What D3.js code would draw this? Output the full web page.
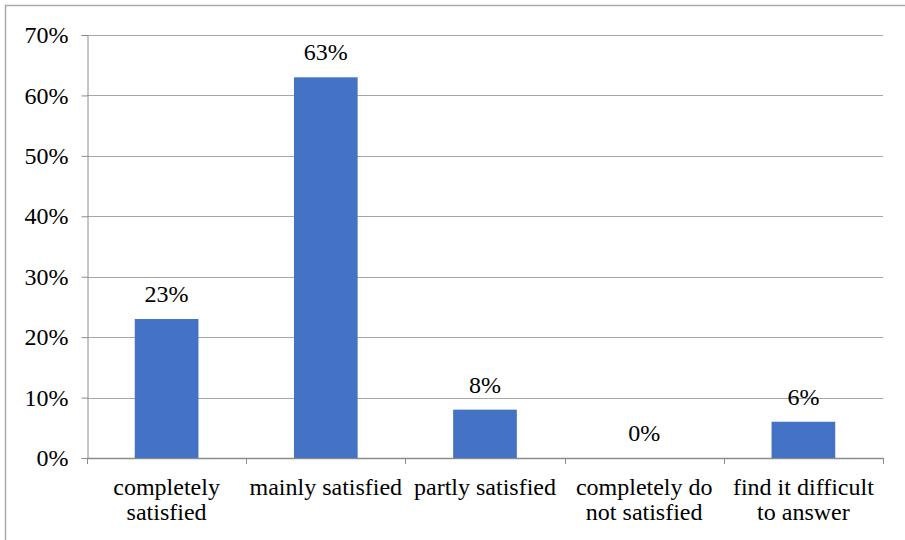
<!DOCTYPE html>
<html>
<head>
<meta charset="utf-8">
<script src="https://cdn.jsdelivr.net/npm/d3@7"></script>
</head>
<body style="margin:0">
<svg id="chart" width="905" height="540"></svg>
<script>
// Survey answers and their shares (%)
const categories = ["completely satisfied", "mainly satisfied", "partly satisfied", "completely do not satisfied", "find it difficult to answer"];
const categoryLines = [["completely", "satisfied"], ["mainly satisfied"], ["partly satisfied"], ["completely do", "not satisfied"], ["find it difficult", "to answer"]];
const values = [23, 63, 8, 0, 6];
const yTicks = [0, 10, 20, 30, 40, 50, 60, 70];

const svg = d3.select("#chart");
const W = 905, H = 540;
const plotLeft = 87, plotRight = 883, plotTop = 35, plotBottom = 458;
const fontSize = 24;
const serif = "Liberation Serif";

// outer frame
svg.append("rect")
  .attr("x", 5.5).attr("y", 5.5)
  .attr("width", W + 10).attr("height", H + 10)
  .attr("fill", "none").attr("stroke", "#aaaaaa").attr("stroke-width", 1.5);

const x = d3.scaleBand().domain(categories).range([plotLeft, plotRight]).paddingInner(0.6).paddingOuter(0.3);
const y = d3.scaleLinear().domain([0, 70]).range([plotBottom, plotTop]);

// horizontal gridlines
svg.append("g").selectAll("line").data(yTicks.filter(t => t > 0)).join("line")
  .attr("x1", plotLeft).attr("x2", plotRight)
  .attr("y1", d => Math.round(y(d)) + 0.5).attr("y2", d => Math.round(y(d)) + 0.5)
  .attr("stroke", "#a6a6a6").attr("stroke-width", 1);

// y axis
const yAxis = svg.append("g").attr("transform", `translate(${plotLeft + 0.5},0)`)
  .call(d3.axisLeft(y).tickValues(yTicks).tickFormat(d => d + "%").tickSize(6).tickPadding(13));
yAxis.attr("font-family", serif).attr("font-size", fontSize);
yAxis.select(".domain").attr("stroke", "#8c8c8c");
yAxis.selectAll(".tick line").attr("stroke", "#8c8c8c");
yAxis.selectAll(".tick text")
  .attr("font-size", fontSize)
  .style("font-family", serif)
  .attr("fill", "#000");

// x axis line with ticks at category boundaries
const bounds = d3.range(categories.length + 1).map(i => plotLeft + (plotRight - plotLeft) * i / categories.length);
svg.append("line")
  .attr("x1", plotLeft).attr("x2", plotRight)
  .attr("y1", plotBottom + 0.5).attr("y2", plotBottom + 0.5)
  .attr("stroke", "#8c8c8c").attr("stroke-width", 1.5);
svg.append("g").selectAll("line").data(bounds).join("line")
  .attr("x1", d => Math.round(d) + 0.5).attr("x2", d => Math.round(d) + 0.5)
  .attr("y1", plotBottom).attr("y2", plotBottom + 6)
  .attr("stroke", "#8c8c8c");

// bars
svg.append("g").selectAll("rect").data(values).join("rect")
  .attr("x", (d, i) => x(categories[i]))
  .attr("width", x.bandwidth())
  .attr("y", d => y(d))
  .attr("height", d => y(0) - y(d))
  .attr("fill", "#4472c4");

// value labels
svg.append("g").selectAll("text").data(values).join("text")
  .attr("x", (d, i) => x(categories[i]) + x.bandwidth() / 2)
  .attr("y", d => y(d) - 17)
  .attr("text-anchor", "middle")
  .attr("font-size", fontSize)
  .style("font-family", serif)
  .text(d => d + "%");

// category labels, one or two lines each
const catText = svg.append("g").selectAll("text").data(categoryLines).join("text")
  .attr("text-anchor", "middle")
  .attr("font-size", fontSize)
  .style("font-family", serif)
  .attr("transform", (d, i) => `translate(${x(categories[i]) + x.bandwidth() / 2},0)`);
catText.selectAll("tspan").data(d => d).join("tspan")
  .attr("x", 0)
  .attr("y", (d, j) => 495 + j * 25)
  .text(d => d);
</script>
</body>
</html>
